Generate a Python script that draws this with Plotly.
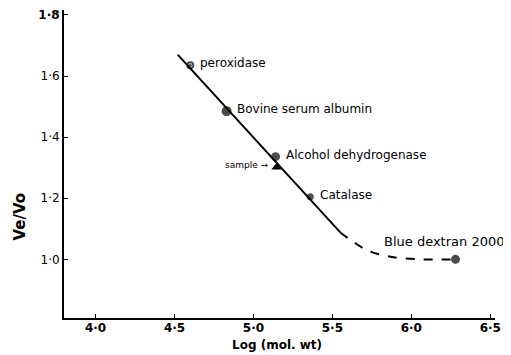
import plotly.graph_objects as go

# Calibration proteins
protein_names = ["peroxidase", "Bovine serum albumin", "Alcohol dehydrogenase", "Catalase", "Blue dextran 2000"]
protein_logmw = [4.60, 4.83, 5.14, 5.36, 6.28]
protein_ve_vo = [1.635, 1.485, 1.336, 1.205, 1.0]

# Sample
sample_logmw = [5.15]
sample_ve_vo = [1.302]

# Calibration line (solid part) and curve (dashed part)
fit_x = [4.52, 5.55]
fit_y = [1.67, 1.088]
curve_x = [5.55, 5.63, 5.72, 5.85, 6.05, 6.28]
curve_y = [1.088, 1.058, 1.03, 1.01, 1.0, 1.0]

x_ticks = [4.0, 4.5, 5.0, 5.5, 6.0, 6.5]
x_tick_text = ["<b>4·0</b>", "<b>4·5</b>", "<b>5·0</b>", "<b>5·5</b>", "<b>6·0</b>", "<b>6·5</b>"]
y_ticks = [1.0, 1.2, 1.4, 1.6, 1.8]
y_tick_text = ["1·0", "1·2", "1·4", "1·6", "<b>1·8</b>"]

fig = go.Figure()
fig.add_trace(go.Scatter(x=fit_x, y=fit_y, mode="lines",
                         line=dict(color="black", width=2), showlegend=False))
fig.add_trace(go.Scatter(x=curve_x, y=curve_y, mode="lines",
                         line=dict(color="black", width=2, dash="dash", shape="spline"),
                         showlegend=False))
fig.add_trace(go.Scatter(x=protein_logmw, y=protein_ve_vo, mode="markers",
                         marker=dict(color="black", size=[6, 8, 7, 5, 7],
                                     symbol=["circle-open-dot", "circle", "circle", "circle-open-dot", "circle"],
                                     line=dict(color="black", width=2)),
                         showlegend=False))
fig.add_trace(go.Scatter(x=sample_logmw, y=sample_ve_vo, mode="markers",
                         marker=dict(color="black", size=10, symbol="triangle-up"),
                         showlegend=False))

label_font = dict(family="DejaVu Sans", size=12, color="black")
for name, x, y in zip(protein_names[:4], protein_logmw[:4], protein_ve_vo[:4]):
    fig.add_annotation(x=x, y=y, text=name, showarrow=False, xanchor="left",
                       xshift=8, yshift=2, font=label_font)
fig.add_annotation(x=protein_logmw[4], y=protein_ve_vo[4], text=protein_names[4],
                   showarrow=False, xanchor="right", xshift=50, yshift=18,
                   font=dict(family="DejaVu Sans", size=13, color="black"))
fig.add_annotation(x=sample_logmw[0], y=sample_ve_vo[0], text="sample →", showarrow=False,
                   xanchor="right", xshift=-6, yshift=2,
                   font=dict(family="DejaVu Sans", size=9, color="black"))
# axis titles
fig.add_annotation(x=5.15, y=0, yref="paper", yanchor="top", yshift=-18, text="<b>Log (mol. wt)</b>",
                   showarrow=False, font=dict(family="DejaVu Sans", size=12, color="black"))
fig.add_annotation(x=0, xref="paper", y=1.14, xanchor="center", xshift=-44, text="<b>Ve/Vo</b>",
                   textangle=-90, showarrow=False,
                   font=dict(family="DejaVu Sans", size=15, color="black"))

fig.update_layout(
    template="none",
    width=503, height=347,
    margin=dict(l=56, r=16, t=2, b=37),
    paper_bgcolor="white", plot_bgcolor="white",
    xaxis=dict(range=[3.80, 6.53], tickvals=x_ticks, ticktext=x_tick_text, automargin=False,
               showgrid=False, zeroline=False, showline=True, linecolor="black", linewidth=2,
               ticks="inside", ticklen=4, tickcolor="black", ticklabelstandoff=-2,
               tickfont=dict(family="DejaVu Sans", size=12, color="black")),
    yaxis=dict(range=[0.808, 1.816], tickvals=y_ticks, ticktext=y_tick_text, automargin=False,
               showgrid=False, zeroline=False, showline=True, linecolor="black", linewidth=2,
               ticks="inside", ticklen=4, tickcolor="black",
               tickfont=dict(family="DejaVu Sans", size=12, color="black")),
)

fig.write_html("out.html")
